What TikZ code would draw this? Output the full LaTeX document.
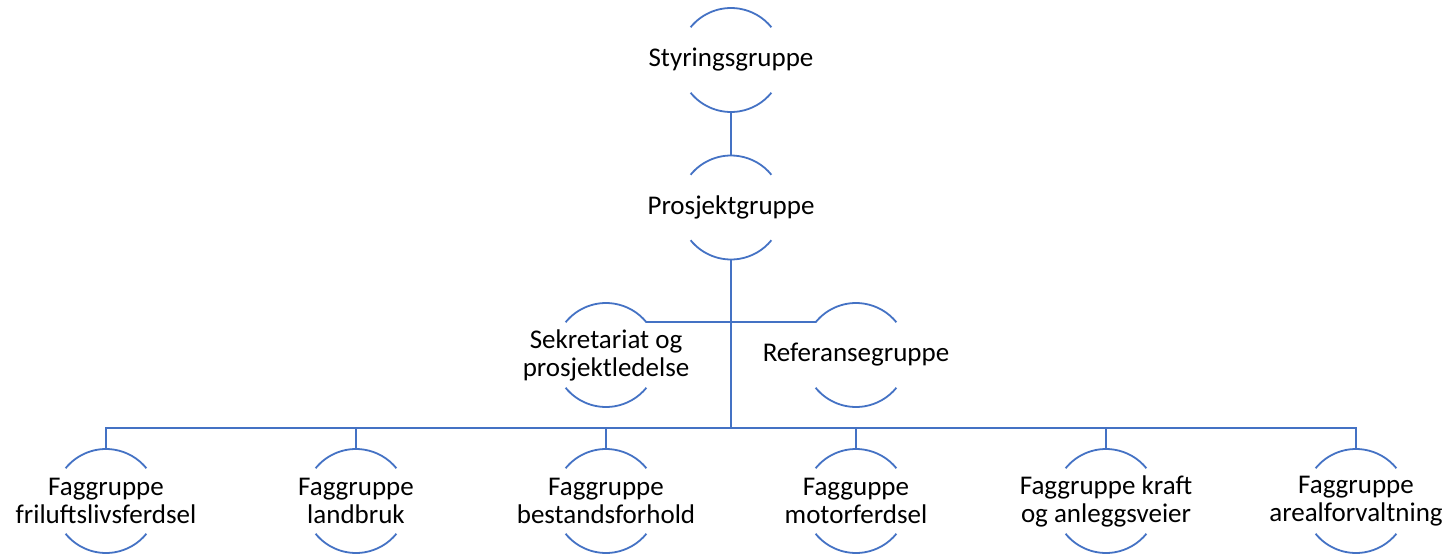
\documentclass[tikz,border=0pt]{standalone}
\usepackage{fontspec}
\setmainfont{Carlito}
\definecolor{orgblue}{HTML}{4472C4}
\begin{document}
\begin{tikzpicture}[x=1pt,y=-1pt,
  ring/.style={circle,minimum size=104pt,inner sep=0pt,outer sep=0pt,draw=none},
  lbl/.style={align=center,font=\fontsize{27}{28}\selectfont,text=black,inner sep=0pt},
  wire/.style={draw=orgblue,line width=1.8pt}]
\useasboundingbox (0,0) rectangle (1445,554);
% rings
\node[ring] (s) at (731,60) {};
\node[ring] (p) at (731,207.5) {};
\node[ring] (sek) at (606,355) {};
\node[ring] (ref) at (856,355) {};
\node[ring] (f1) at (106,501) {};
\node[ring] (f2) at (356,501) {};
\node[ring] (f3) at (606,501) {};
\node[ring] (f4) at (856,501) {};
\node[ring] (f5) at (1106,501) {};
\node[ring] (f6) at (1356,501) {};
\coordinate (bus) at (731,428);
% arcs
\foreach \n in {s,p,sek,ref,f1,f2,f3,f4,f5,f6}{
  \draw[wire] (\n.141) arc[start angle=141,end angle=39,radius=52pt];
  \draw[wire] (\n.-141) arc[start angle=-141,end angle=-39,radius=52pt];
}
% labels
\node[lbl] at (s) {Styringsgruppe};
\node[lbl] at (p) {Prosjektgruppe};
\node[lbl] at (sek) {Sekretariat og\\prosjektledelse};
\node[lbl] at (ref) {Referansegruppe};
\node[lbl] at (f1) {Faggruppe\\friluftslivsferdsel};
\node[lbl] at (f2) {Faggruppe\\landbruk};
\node[lbl] at (f3) {Faggruppe\\bestandsforhold};
\node[lbl] at (f4) {Fagguppe\\motorferdsel};
\node[lbl] at (f5) {Faggruppe kraft\\og anleggsveier};
\node[lbl] at (f6) {Faggruppe\\arealforvaltning};
% connectors
\draw[wire] (s.south) -- (p.north);
\draw[wire] (p.south) -- (bus);
\draw[wire] (sek.39) -- (ref.141);
\draw[wire] (f1.north) |- (bus) -| (f6.north);
\foreach \n in {f2,f3,f4,f5}{
  \draw[wire] (\n.north) -- (\n.north |- bus);
}
\end{tikzpicture}
\end{document}
